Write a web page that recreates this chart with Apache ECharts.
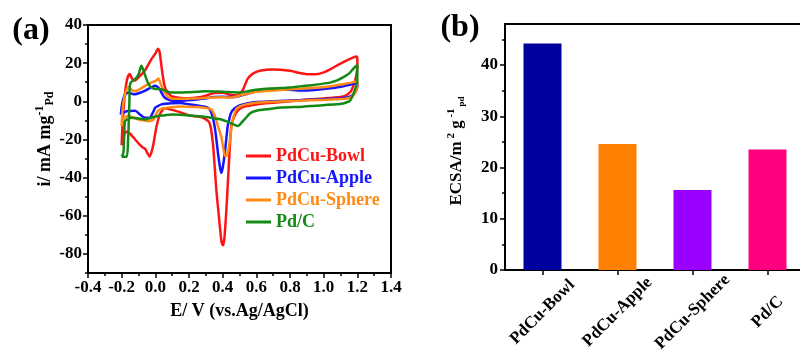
<!DOCTYPE html>
<html>
<head>
<meta charset="utf-8">
<script src="https://cdn.jsdelivr.net/npm/echarts@6/dist/echarts.min.js"></script>
<style>html,body{margin:0;padding:0;background:#fff}#c{width:800px;height:353px}</style>
</head>
<body>
<div id="c"></div>
<script>
// ---------- DATA (panel a: cyclic voltammograms, [E / V, i / mA mg-1]) ----------
const cvNames = ['PdCu-Bowl', 'PdCu-Apple', 'PdCu-Sphere', 'Pd/C'];
const bowlCV = [[-0.2,-23],[-0.195,-12],[-0.185,0],[-0.175,8],[-0.163,13],[-0.152,14.3],[-0.138,11.8],[-0.123,10.8],[-0.1,12.5],[-0.063,16],[-0.024,22],[0.0,25],[0.016,27.5],[0.025,26],[0.04,16],[0.055,8],[0.07,5],[0.085,3.5],[0.1,2.5],[0.15,1.8],[0.2,1.6],[0.25,2],[0.3,3],[0.35,4.3],[0.4,4.5],[0.45,3.3],[0.48,3.2],[0.5,4],[0.52,6],[0.55,12],[0.58,14.5],[0.62,16],[0.7,16.7],[0.8,16],[0.85,15],[0.9,14.2],[0.95,14.2],[1.0,15.2],[1.05,17.3],[1.1,19.8],[1.15,22],[1.195,23.5],[1.2,22],
  [1.2,18],[1.19,12],[1.18,9],[1.16,5],[1.13,3],[1.1,2.3],[1.0,1.5],[0.9,0.9],[0.8,0],[0.7,-0.8],[0.64,-1.2],[0.58,-2],[0.53,-2.8],[0.5,-4],[0.48,-6],[0.46,-10],[0.45,-14],[0.438,-31],[0.422,-57],[0.41,-72],[0.402,-75.5],[0.394,-74],[0.386,-68],[0.375,-58],[0.362,-46],[0.35,-31],[0.343,-23],[0.33,-14],[0.32,-11],[0.31,-10],[0.283,-8.6],[0.25,-8],[0.204,-7.5],[0.15,-5.8],[0.1,-4.5],[0.07,-3.8],[0.055,-3.5],[0.04,-5],[0.026,-7],[0.01,-12],[0.0,-16.5],[-0.015,-24],[-0.034,-29],[-0.045,-27.5],[-0.06,-25],[-0.073,-24.3],[-0.1,-22],[-0.12,-20],[-0.15,-17],[-0.17,-16],[-0.18,-16.5],[-0.19,-19],[-0.2,-23]];
const appleCV = [[-0.205,-7],[-0.2,-3],[-0.19,1.5],[-0.175,4],[-0.16,4.6],[-0.14,4],[-0.12,3.7],[-0.09,4.5],[-0.063,5.5],[-0.03,7],[-0.004,8.2],[0.01,7.8],[0.026,6.3],[0.04,4],[0.055,2],[0.08,0.8],[0.105,0.3],[0.15,0.3],[0.2,0.6],[0.25,1],[0.3,1.6],[0.35,2.2],[0.4,2.4],[0.45,2.2],[0.5,2.8],[0.55,4],[0.6,5.3],[0.68,6.2],[0.8,6],[0.88,5.6],[0.95,6],[1.0,6.5],[1.075,7.2],[1.15,8.6],[1.2,9.5],
  [1.2,8],[1.19,5],[1.17,3],[1.14,2],[1.05,1.3],[0.976,1],[0.85,0.6],[0.7,0],[0.6,-0.4],[0.55,-1],[0.5,-2.2],[0.47,-3.8],[0.45,-6],[0.44,-9],[0.43,-13],[0.42,-21],[0.41,-29],[0.4,-35],[0.392,-37.5],[0.385,-35],[0.372,-27],[0.36,-18],[0.352,-13],[0.34,-8],[0.323,-4.2],[0.3,-3],[0.25,-2.2],[0.2,-1.6],[0.15,-0.9],[0.1,-1],[0.036,-1.6],[0.015,-2.5],[0.0,-3.3],[-0.015,-6],[-0.034,-8.6],[-0.063,-8.6],[-0.09,-7],[-0.12,-5],[-0.16,-5.1],[-0.18,-5.5],[-0.195,-6.5],[-0.205,-7]];
const sphereCV = [[-0.2,-13],[-0.195,-5],[-0.185,2],[-0.17,6.5],[-0.16,7.3],[-0.14,6],[-0.12,5.3],[-0.09,6.5],[-0.063,8],[-0.03,9.5],[0.006,11],[0.018,12],[0.03,9.5],[0.045,6.3],[0.06,4],[0.075,2.2],[0.1,1.4],[0.15,1.3],[0.2,1.4],[0.25,1.5],[0.3,1.8],[0.35,2],[0.4,2.1],[0.45,2],[0.5,3],[0.55,4],[0.6,5],[0.68,5.5],[0.8,6.3],[0.9,6.8],[0.976,7.2],[1.05,8],[1.1,8.8],[1.164,9.8],[1.2,10.5],
  [1.2,8],[1.19,5],[1.17,2.5],[1.14,1.5],[1.05,1],[0.976,0.7],[0.85,0.3],[0.7,-0.2],[0.6,-0.8],[0.54,-1.6],[0.5,-2.8],[0.48,-4.2],[0.465,-8],[0.457,-11],[0.448,-17],[0.438,-23.6],[0.428,-27.5],[0.418,-28.8],[0.41,-27.5],[0.402,-23.6],[0.39,-18],[0.372,-13],[0.355,-8],[0.333,-4.3],[0.3,-3.5],[0.25,-3],[0.2,-2.8],[0.15,-2.7],[0.075,-3.3],[0.04,-3.8],[0.016,-5],[0.0,-7.5],[-0.01,-9.5],[-0.044,-10.4],[-0.07,-10],[-0.1,-9.5],[-0.13,-8.5],[-0.16,-7.7],[-0.18,-8.5],[-0.193,-10],[-0.2,-13]];
const pdcCV = [[-0.2,-29],[-0.17,-29],[-0.162,-20],[-0.158,-11],[-0.154,0],[-0.152,8],[-0.145,10],[-0.12,11.6],[-0.1,14],[-0.083,18.6],[-0.07,16],[-0.053,11.6],[-0.04,9],[-0.024,7.2],[0.0,6.5],[0.036,6.3],[0.06,5.5],[0.095,4.6],[0.15,4.6],[0.2,4.8],[0.25,5],[0.3,5.3],[0.35,5.2],[0.4,5],[0.45,4.8],[0.5,4.6],[0.55,5.3],[0.6,6],[0.68,6.7],[0.8,7.3],[0.877,8],[0.95,8.7],[1.036,9.8],[1.08,11],[1.115,12.5],[1.15,14.5],[1.174,16.9],[1.2,19],
  [1.2,14],[1.198,9.8],[1.18,4.6],[1.155,0.2],[1.12,-1],[1.075,-1.6],[0.95,-2.3],[0.877,-2.8],[0.75,-3.3],[0.68,-4],[0.62,-4.6],[0.58,-5.5],[0.56,-6.5],[0.54,-8.5],[0.52,-10.4],[0.505,-12],[0.49,-13],[0.475,-12.5],[0.46,-12],[0.44,-11],[0.42,-10.4],[0.38,-9.3],[0.36,-9.1],[0.3,-8.2],[0.21,-7.5],[0.15,-7],[0.095,-6.9],[0.05,-7.4],[0.016,-7.7],[-0.024,-8.6],[-0.063,-9.5],[-0.1,-9],[-0.143,-8.6],[-0.165,-9.5],[-0.18,-10.4],[-0.186,-20],[-0.19,-27],[-0.2,-29]];
const cvYMajorTicks = [-80, -60, -40, -20, 0, 20, 40];
const cvYMinorTicks = [-90, -70, -50, -30, -10, 10, 30];

// ---------- DATA (panel b: ECSA) ----------
const barCategories = ['PdCu-Bowl', 'PdCu-Apple', 'PdCu-Sphere', 'Pd/C'];
const ecsaValues = [44.2, 24.6, 15.6, 23.5];
const ecsaYMajorTicks = [0, 10, 20, 30, 40];
const ecsaYMinorTicks = [5, 15, 25, 35, 45];

// ---------- STYLE ----------
const FONT = 'Liberation Serif';
const lineColors = ['#ff1414', '#1414ff', '#ff8a14', '#148a14'];
const barColors = ['#00009c', '#ff8000', '#9b00ff', '#ff0080'];
const cvData = [bowlCV, appleCV, sphereCV, pdcCV];

const txt = (size) => ({ fontFamily: FONT, fontWeight: 'bold', fontSize: size, color: '#000' });
const tickStyle = { color: '#000', width: 1.5 };

const chart = echarts.init(document.getElementById('c'));
chart.setOption({
  animation: false,
  grid: [
    { left: 88, top: 25, width: 303, height: 248, show: true, borderColor: '#000', borderWidth: 2, backgroundColor: 'transparent', outerBoundsMode: 'none' },
    { left: 505, top: 24, width: 300, height: 246, show: true, borderColor: '#000', borderWidth: 2, backgroundColor: 'transparent', outerBoundsMode: 'none' }
  ],
  xAxis: [
    { type: 'value', gridIndex: 0, min: -0.4, max: 1.4, interval: 0.2,
      name: 'E/ V (vs.Ag/AgCl)', nameLocation: 'middle', nameGap: 29, nameTextStyle: txt(18),
      axisLine: { show: true, onZero: false, lineStyle: { color: '#000', width: 2 } },
      axisTick: { show: true, length: 5, lineStyle: tickStyle },
      minorTick: { show: true, splitNumber: 2, length: 3, lineStyle: tickStyle },
      axisLabel: { ...txt(17), margin: 6, formatter: v => Math.abs(v) < 1e-9 ? '0.0' : v.toFixed(1) },
      splitLine: { show: false } },
    { type: 'category', gridIndex: 1, data: barCategories,
      axisLine: { show: true, onZero: false, lineStyle: { color: '#000', width: 2 } },
      axisTick: { show: true, alignWithLabel: true, length: 5, lineStyle: tickStyle },
      axisLabel: { ...txt(17), rotate: 45, align: 'center', verticalAlign: 'middle', margin: 42, interval: 0 } }
  ],
  yAxis: [
    { type: 'value', gridIndex: 0, min: -90, max: 40, interval: 10,
      axisLine: { show: true, onZero: false, lineStyle: { color: '#000', width: 2 } },
      axisTick: { show: true, length: 5, customValues: cvYMajorTicks, lineStyle: tickStyle },
      axisLabel: { ...txt(17), margin: 6, customValues: cvYMajorTicks },
      splitLine: { show: false } },
    { type: 'value', gridIndex: 0, min: -90, max: 40, interval: 10, position: 'left',
      axisLine: { show: false, onZero: false }, axisLabel: { show: false }, splitLine: { show: false },
      axisTick: { show: true, length: 3, customValues: cvYMinorTicks, lineStyle: tickStyle } },
    { type: 'value', gridIndex: 1, min: 0, max: 48, interval: 10,
      axisLine: { show: true, onZero: false, lineStyle: { color: '#000', width: 2 } },
      axisTick: { show: true, length: 5, customValues: ecsaYMajorTicks, lineStyle: tickStyle },
      axisLabel: { ...txt(17), margin: 7, customValues: ecsaYMajorTicks },
      splitLine: { show: false } },
    { type: 'value', gridIndex: 1, min: 0, max: 48, interval: 10, position: 'left',
      axisLine: { show: false, onZero: false }, axisLabel: { show: false }, splitLine: { show: false },
      axisTick: { show: true, length: 3, customValues: ecsaYMinorTicks, lineStyle: tickStyle } }
  ],
  legend: {
    orient: 'vertical', left: 241, top: 142, itemGap: 4, itemWidth: 25, itemHeight: 3, icon: 'rect',
    textStyle: { fontFamily: FONT, fontWeight: 'bold', fontSize: 18 },
    data: cvNames.map((n, i) => ({ name: n, textStyle: { color: lineColors[i] } }))
  },
  series: [
    ...cvNames.map((n, i) => ({
      name: n, type: 'line', xAxisIndex: 0, yAxisIndex: 0, data: cvData[i],
      showSymbol: false, smooth: 0.25, color: lineColors[i],
      lineStyle: { width: 2.5, color: lineColors[i], join: 'round' }
    })),
    { type: 'bar', xAxisIndex: 1, yAxisIndex: 2, data: ecsaValues, barWidth: 38,
      itemStyle: { color: p => barColors[p.dataIndex] } }
  ],
  graphic: [
    { type: 'text', x: 31, y: 31, style: { text: '(a)', ...txt(32), fill: '#000', align: 'center', verticalAlign: 'middle' } },
    { type: 'text', x: 460, y: 28, style: { text: '(b)', ...txt(32), fill: '#000', align: 'center', verticalAlign: 'middle' } },
    { type: 'text', x: 45, y: 139, rotation: Math.PI / 2,
      style: { text: '{m|i/ mA mg}{sup|-1}{sub|Pd}', align: 'center', verticalAlign: 'middle', fill: '#000',
        rich: { m: txt(18), sup: { ...txt(12), padding: [0, 0, 11, 0] }, sub: { ...txt(12), padding: [9, 0, 0, 0] } } } },
    { type: 'text', x: 457, y: 151, rotation: Math.PI / 2,
      style: { text: '{m|ECSA/m}{sup| 2}{m| g}{sup| -1}{sub|pd}', align: 'center', verticalAlign: 'middle', fill: '#000',
        rich: { m: txt(17), sup: { ...txt(11), padding: [0, 0, 11, 0] }, sub: { ...txt(9), padding: [10, 0, 0, 2] } } } }
  ]
});
</script>
</body>
</html>
